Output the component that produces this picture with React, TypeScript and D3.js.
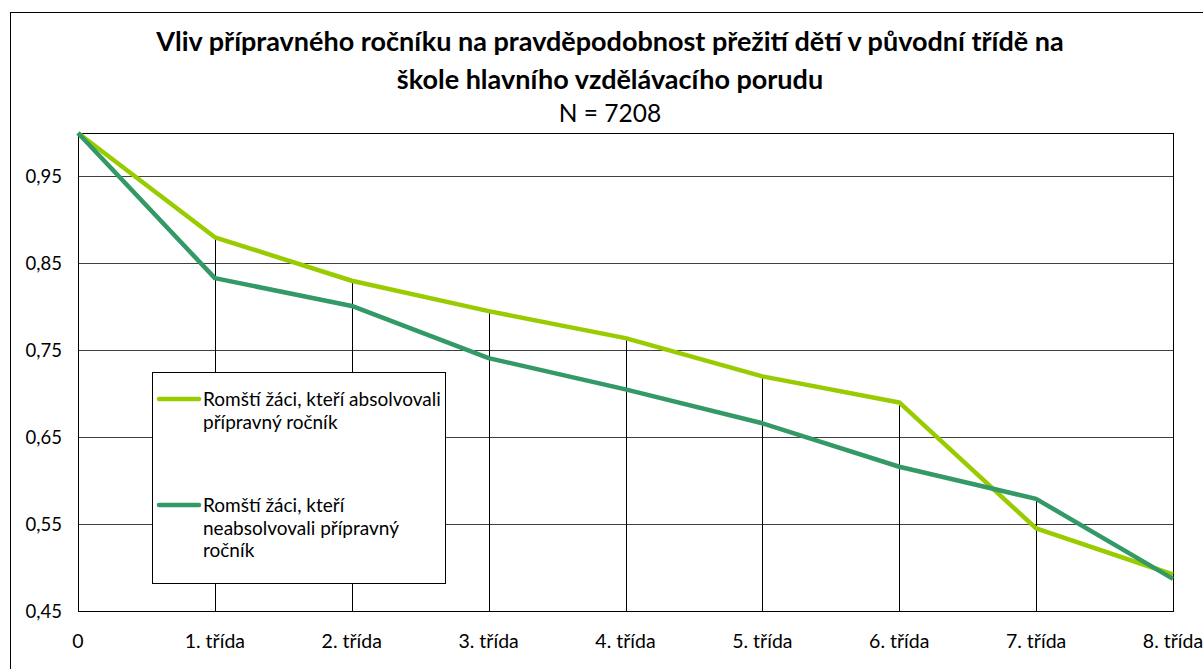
import React from "react";
import * as d3 from "d3";

const categories = ["0", "1. třída", "2. třída", "3. třída", "4. třída", "5. třída", "6. třída", "7. třída", "8. třída"];
const seriesNames = [
  ["Romští žáci, kteří absolvovali", "přípravný ročník"],
  ["Romští žáci, kteří", "neabsolvovali přípravný", "ročník"],
];
const absolvovali = [1.0, 0.88, 0.83, 0.795, 0.764, 0.72, 0.69, 0.545, 0.492];
const neabsolvovali = [1.0, 0.833, 0.801, 0.741, 0.705, 0.666, 0.616, 0.579, 0.487];
const yTicks = [0.45, 0.55, 0.65, 0.75, 0.85, 0.95];
const titleLines = ["Vliv přípravného ročníku na pravděpodobnost přežití dětí v původní třídě na", "škole hlavního vzdělávacího porudu"];
const subtitle = "N = 7208";

const colors = ["#99CC00", "#339966"];
const FONT = "Lato, 'Open Sans', sans-serif";

export default function App() {
  const W = 1203, H = 669;
  const left = 78, right = 1173, top = 133, bottom = 611;
  const x = d3.scaleLinear().domain([0, categories.length - 1]).range([left, right]);
  const y = d3.scaleLinear().domain([0.45, 1.0]).range([bottom, top]);
  const line = d3.line<number>().x((_, i) => x(i)).y((d) => y(d));
  const series = [absolvovali, neabsolvovali];
  const fmt = (v: number) => v.toFixed(2).replace(".", ",");

  return (
    <svg width={W} height={H} style={{ position: "absolute", left: 0, top: 0, background: "#fff" }} fontFamily={FONT}>
      <rect x={10.5} y={12.5} width={W + 20} height={H + 20} fill="#fff" stroke="#000" strokeWidth={1} />
      <text x={610} y={51} textAnchor="middle" fontWeight="bold" fontSize={27}>{titleLines[0]}</text>
      <text x={610} y={89} textAnchor="middle" fontWeight="bold" fontSize={27}>{titleLines[1]}</text>
      <text x={610} y={122} textAnchor="middle" fontSize={24.5}>{subtitle}</text>
      {yTicks.map((t) => (
        <line key={t} x1={left} x2={right} y1={Math.round(y(t)) + 0.5} y2={Math.round(y(t)) + 0.5} stroke="#404040" strokeWidth={1} />
      ))}
      {categories.map((_, i) => (
        <line key={"d" + i} x1={Math.round(x(i)) + 0.5} x2={Math.round(x(i)) + 0.5} y1={y(Math.max(absolvovali[i], neabsolvovali[i]))} y2={bottom} stroke="#000" strokeWidth={1} />
      ))}
      <rect x={left + 0.5} y={top + 0.5} width={right - left} height={bottom - top} fill="none" stroke="#000" strokeWidth={1} />
      {yTicks.map((t) => (
        <text key={"t" + t} x={62} y={y(t) + 7} textAnchor="end" fontSize={18.5}>{fmt(t)}</text>
      ))}
      {categories.map((c, i) => (
        <text key={"c" + i} x={x(i)} y={648} textAnchor="middle" fontSize={19.5}>{c}</text>
      ))}
      {series.map((s, k) => (
        <path key={"s" + k} d={line(s) || ""} fill="none" stroke={colors[k]} strokeWidth={4.5} strokeLinejoin="round" />
      ))}
      <rect x={152.5} y={372.5} width={293} height={211} fill="#fff" stroke="#000" strokeWidth={1} />
      {seriesNames.map((lines, k) => {
        const y0 = k === 0 ? 399 : 505;
        return (
          <g key={"l" + k}>
            <line x1={159} x2={199} y1={y0} y2={y0} stroke={colors[k]} strokeWidth={4.5} strokeLinecap="round" />
            {lines.map((t, j) => (
              <text key={j} x={203} y={y0 + 7 + j * 22.7} fontSize={19}>{t}</text>
            ))}
          </g>
        );
      })}
    </svg>
  );
}
